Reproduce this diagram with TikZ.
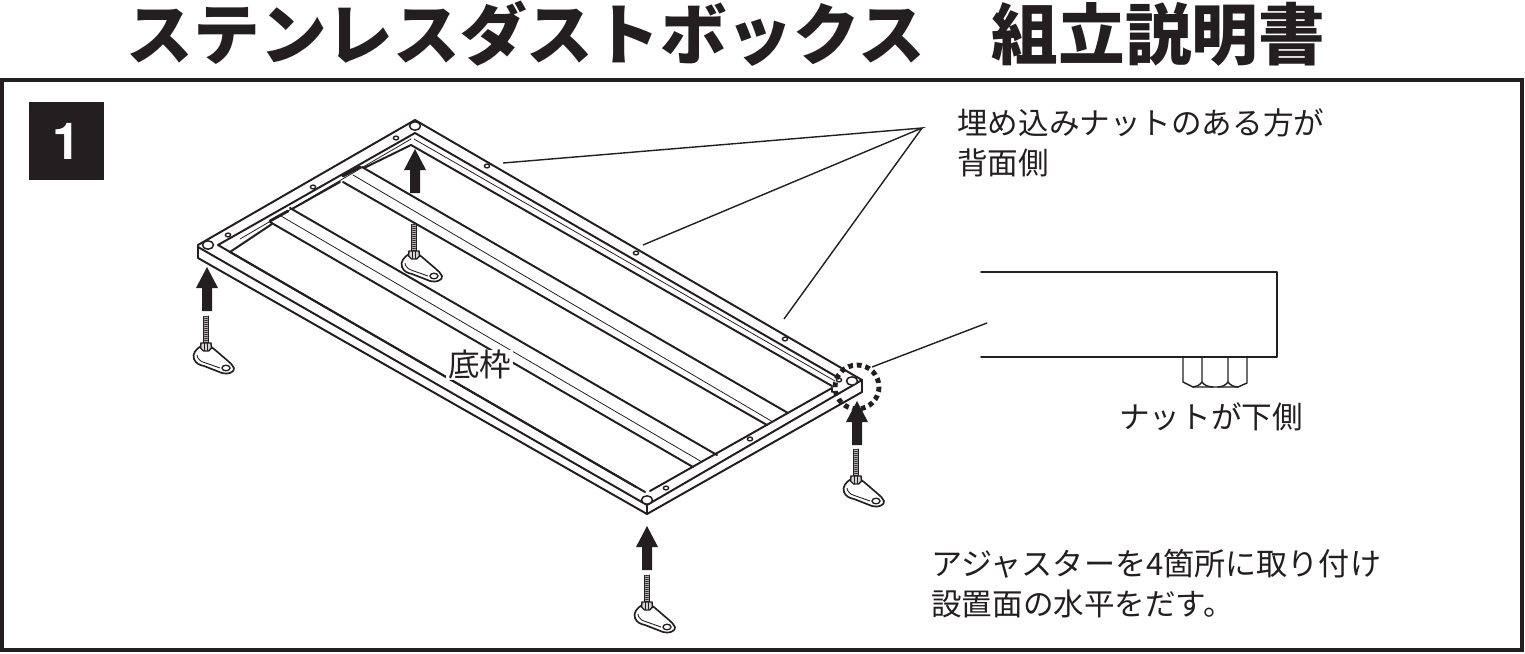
\documentclass[tikz,border=0pt]{standalone}
\usepackage{fontspec}
\setmainfont{Noto Sans CJK JP}
\newfontfamily\ttlfont{Noto Sans CJK JP Black}
\newfontfamily\numfont{TeX Gyre Heros}
\definecolor{ink}{HTML}{231F20}
\tikzset{
  heavy/.style={draw=ink,line width=1.12pt,line join=round,line cap=round},
  fine/.style={draw=ink,line width=0.45pt,line cap=round},
  leader/.style={draw=ink,line width=0.8pt},
  body/.style={inner sep=0pt,anchor=west,text=ink,align=left,font=\fontsize{17.4}{22.7}\selectfont},
  hole/.style={draw=ink,line width=0.85pt,fill=white},
  upshaft/.pic={\fill[ink] (0,0) -- (11,21) -- (5,21) -- (5,44) -- (-5,44) -- (-5,21) -- (-11,21) -- cycle;},
  adjuster/.pic={
    \draw[heavy,fill=white,line width=0.95pt] (-5,30) .. controls (-10,33) and (-14,38) .. (-12,43)
      .. controls (-10,48) and (-6,49) .. (-2,50) -- (16,57) .. controls (22,59) and (29,56) .. (28,52)
      .. controls (27,49) and (24,47) .. (22,45) -- (8,33) .. controls (6,31) and (0,28) .. (-5,30) -- cycle;
    \draw[ink,line width=0.5pt] (-9,39) .. controls (-9,42) and (-6,45) .. (-3,46) -- (14,52);
    \draw[hole,line width=0.75pt] (20,52) ellipse [x radius=4,y radius=2.8];
    \fill[gray!55] (-2.8,0) rectangle (2.8,28);
    \foreach \k in {1,3,...,27}{\draw[ink,line width=0.4pt] (-2.8,\k) -- (2.8,\k-1);}
    \draw[ink,line width=0.45pt] (-2.8,0) -- (-2.8,28) (2.8,0) -- (2.8,28);
    \draw[ink,fill=gray!35,line width=0.8pt] (-5,27) -- (5,27) -- (5.5,32) -- (2.5,35) -- (-2.5,35) -- (-5.5,32) -- cycle;
    \draw[ink,line width=0.5pt] (-1.5,27) -- (-1.5,35) (1.5,27) -- (1.5,35);
  }
}
\begin{document}
\begin{tikzpicture}[x=0.02cm,y=-0.02cm]
\useasboundingbox (0,0) rectangle (1525,653);
\node[inner sep=0pt,text=ink] (title) at (726,34) {\fontsize{37.95}{40}\ttlfont ステンレスダストボックス　組立説明書};
\draw[ink,line width=2.3pt] (2,80) rectangle (1522,650);
\node[fill=ink,minimum width=1.5cm,minimum height=1.56cm,inner sep=0pt,text=white] (num) at (66.5,141) {\fontsize{29}{29}\numfont\bfseries 1};

% outer frame
\draw[heavy] (198,245) -- (415,120) -- (862,380) -- (862,392) -- (647,514) -- (198,258) -- cycle;
\draw[heavy] (198,247) -- (647,505) -- (862,380);
\draw[heavy] (647,505) -- (647,514);
% inner edges
\draw[heavy] (218,245) -- (415,133) -- (837,377);
\draw[heavy] (218,245) -- (645,492);
\draw[heavy] (650,491) -- (832,388) -- (832,392);
\draw[heavy] (230,252) -- (636,487);
\draw[heavy] (411,145) -- (832,386);
\draw[fine] (414,139) -- (835,381);
% left strip, between the rails
\draw[heavy] (230,252) -- (272,224);
\draw[heavy] (292,209) -- (340,182);
\draw[heavy] (364,168) -- (411,145);
\draw[fine] (240,239) -- (411,139);
\draw[heavy,line width=1.6pt] (270,221) -- (288,211);
\draw[heavy,line width=1.6pt] (343,176) -- (360,167);
% rails
\draw[heavy] (290,208) -- (717,455);
\draw[heavy] (270,222) -- (693,467);
\draw[fine] (281,216) -- (702,462);
\draw[heavy] (362,167) -- (788,413);
\draw[heavy] (343,182) -- (767,425);
\draw[fine] (353,175) -- (773,422);

% holes
\foreach \x/\y in {228/235,313/187,396/138,487/166,636/253,785/339,750/439,666/488,839/380}
  \draw[hole,line width=0.8pt] (\x,\y) ellipse [x radius=2.6,y radius=1.9];
\foreach \x/\y in {208/245,415/126,647/500,852/381}
  \draw[hole] (\x,\y) ellipse [x radius=5.5,y radius=4.2];

% leaders
\coordinate (conv) at (922,128);
\coordinate (lA) at (503,163);
\coordinate (lB) at (643,245);
\coordinate (lC) at (784,319);
\draw[leader] (lA) -- (conv) -- (lB);
\draw[leader] (conv) -- (lC);
\coordinate (lD) at (872,367);
\coordinate (lE) at (987,323);
\draw[leader] (lD) -- (lE);

% dashed circle
\draw[ink,line width=2.8pt,dash pattern=on 2.7pt off 2.2pt] (857,387) circle [radius=22];

% arrows
\pic at (207,267) {upshaft};
\pic at (415,149) {upshaft};
\pic at (647,526) {upshaft};
\pic at (857,401) {upshaft};
% adjusters
\pic at (206,316) {adjuster};
\pic at (414,224) {adjuster};
\pic at (647,575) {adjuster};
\pic at (856,449) {adjuster};

% detail view
\draw[heavy] (981,272) -- (1277,272) -- (1277,357) -- (981,357);
\draw[heavy,line width=0.8pt] (1183,357) -- (1183,382) -- (1193,387) -- (1238,387) -- (1247,383) -- (1247,357);
\draw[heavy,line width=0.8pt] (1202,357) -- (1202,382) .. controls (1205,386) and (1208,386.5) .. (1213,387);
\draw[heavy,line width=0.8pt] (1202,382) .. controls (1199,386) and (1196,386.5) .. (1193,387);
\draw[heavy,line width=0.8pt] (1228,357) -- (1228,382) .. controls (1225,386) and (1222,386.5) .. (1218,387);
\draw[heavy,line width=0.8pt] (1228,382) .. controls (1231,386) and (1234,386.5) .. (1238,387);

% texts
\node[body] (t1) at (957,143) {埋め込みナットのある方が\\背面側};
\node[body,fill=white,inner xsep=1pt] (t2) at (446,365) {\fontsize{18}{22.7}\selectfont 底枠};
\node[body] (t3) at (1119,417) {ナットが下側};
\node[body] (t4) at (931,584) {\fontsize{17.7}{22.7}\selectfont アジャスターを4箇所に取り付け\\設置面の水平をだす。};
\end{tikzpicture}
\end{document}
